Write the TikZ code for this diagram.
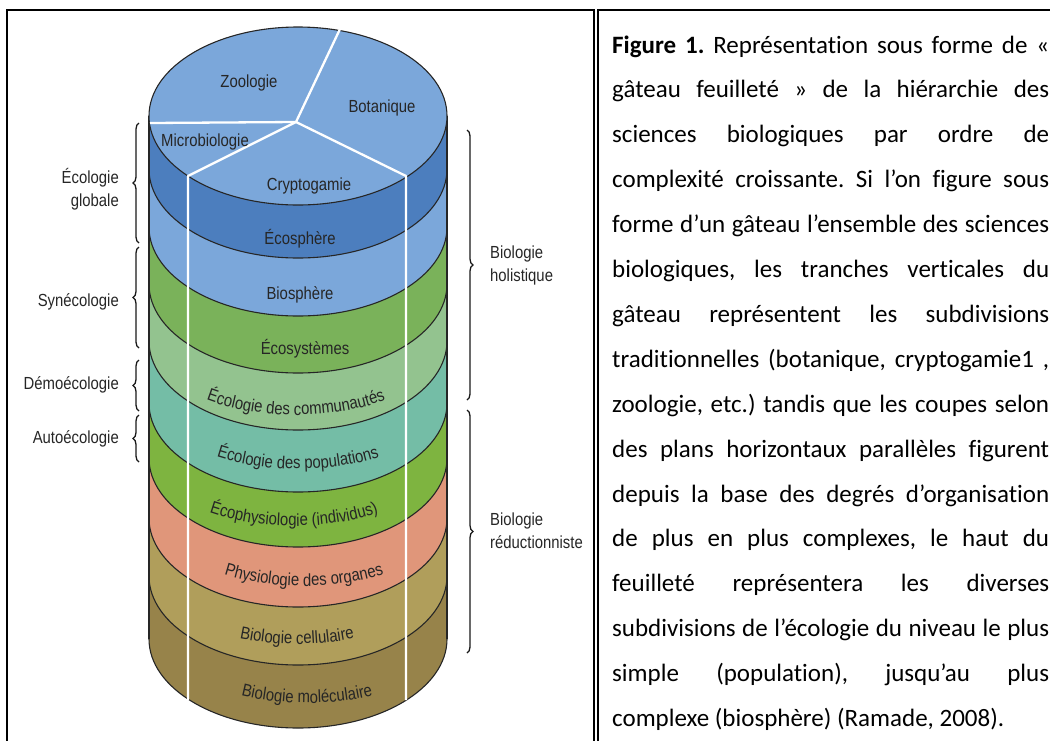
\documentclass[tikz,border=0pt]{standalone}
\usepackage{fontspec}
\usepackage{tikz}
\usetikzlibrary{decorations,decorations.pathreplacing,decorations.text}
\newfontfamily\narrowsans{Liberation Sans}[FakeStretch=0.85]
\newfontfamily\capfont{Carlito}[Ligatures=CommonOff]
\definecolor{cakeblue}{HTML}{7BA7DA}
\definecolor{cakedeep}{HTML}{4C7EBE}
\definecolor{cakegreen}{HTML}{7AB25A}
\definecolor{cakemint}{HTML}{93C38F}
\definecolor{caketeal}{HTML}{74BDA6}
\definecolor{cakeleaf}{HTML}{7EB440}
\definecolor{cakesalmon}{HTML}{E0967A}
\definecolor{cakekhaki}{HTML}{B09E5B}
\definecolor{cakebrown}{HTML}{97834A}
\definecolor{labelgray}{HTML}{262626}
\newcommand\curvefont{\narrowsans\fontsize{17.5}{20}\selectfont\color{labelgray}}
\newcommand\jline[1]{\makebox[437pt][s]{#1}}
\tikzstyle{rim}=[draw=black!85, line width=1.1]
\tikzstyle{slice}=[draw=white, line width=2.3, line join=round]
\tikzstyle{lbl}=[font=\narrowsans\fontsize{17.5}{22.5}\selectfont, text=labelgray, inner sep=0]
\tikzstyle{lbrace}=[decorate, decoration={brace, amplitude=6}, line width=1.3, draw=black!90]
\tikzstyle{capline}=[font=\capfont\fontsize{25}{30}\selectfont, inner sep=0, anchor=base west]
\frenchspacing

\begin{document}
\begin{tikzpicture}[x=1pt,y=-1pt]
\useasboundingbox (0,0) rectangle (1050,740);
\draw[line width=1.6] (7,10) rectangle (594,760);
\draw[line width=1.6] (598,10) rectangle (1070,760);
\foreach \ct/\cb/\col in {116/169/cakedeep,169/227/cakeblue,227/284/cakegreen,284/341/cakemint,341/403/caketeal,403/458/cakeleaf,458/518/cakesalmon,518/576/cakekhaki,576/639/cakebrown} {
	\fill[\col] (149,\ct) -- (149,\cb) arc[start angle=180,end angle=0,x radius=149,y radius=89] -- (447,\ct) arc[start angle=0,end angle=180,x radius=149,y radius=89] -- cycle;
}
\foreach \cb in {169,227,284,341,403,458,518,576,639} {
	\draw[rim] (149,\cb) arc[start angle=180,end angle=0,x radius=149,y radius=89];
}
\draw[rim] (149,116) -- (149,639);
\draw[rim] (447,116) -- (447,639);
\filldraw[fill=cakeblue, rim] (298,116) ellipse[x radius=149, y radius=89];
\coordinate (hub) at (296,122);
\coordinate (rimL) at (150,123);
\coordinate (rimT) at (340,29);
\coordinate (frontL) at (188,176);
\coordinate (frontR) at (406,176);
\coordinate (baseL) at (188,700);
\coordinate (baseR) at (406,700);
\draw[slice] (rimL) -- (hub) -- (rimT);
\draw[slice] (baseL) -- (frontL) -- (hub) -- (frontR) -- (baseR);
\node[lbl, anchor=base] (zoo) at (249,87) {Zoologie};
\node[lbl, anchor=base] (bota) at (382,112) {Botanique};
\node[lbl, anchor=base] (micro) at (205,146) {Microbiologie};
\node[lbl, anchor=base] (crypto) at (309,190) {Cryptogamie};
\node[lbl, anchor=base] (ecosph) at (300,244) {Écosphère};
\node[lbl, anchor=base] (biosph) at (300,299) {Biosphère};
\node[lbl, anchor=base] (ecosys) at (305,354) {Écosystèmes};
\path[decorate, decoration={text along path, text align=center, text={|\curvefont|Écologie des communautés}}] (147,340) arc[start angle=180,end angle=0,x radius=149,y radius=75];
\path[decorate, decoration={text along path, text align=center, text={|\curvefont|Écologie des populations}}] (149,394) arc[start angle=180,end angle=0,x radius=149,y radius=75];
\path[decorate, decoration={text along path, text align=center, text={|\curvefont|Écophysiologie (individus)}}] (145,451) arc[start angle=180,end angle=0,x radius=149,y radius=75];
\path[decorate, decoration={text along path, text align=center, text={|\curvefont|Physiologie des organes}}] (155,511) arc[start angle=180,end angle=0,x radius=149,y radius=75];
\path[decorate, decoration={text along path, text align=center, text={|\curvefont|Biologie cellulaire}}] (148,569) arc[start angle=180,end angle=0,x radius=149,y radius=75];
\path[decorate, decoration={text along path, text align=center, text={|\curvefont|Biologie moléculaire}}] (158,628) arc[start angle=180,end angle=0,x radius=149,y radius=75];
\draw[lbrace] (139,243) -- (139,123);
\draw[lbrace] (139,348) -- (139,247);
\draw[lbrace] (139,411) -- (139,360);
\draw[lbrace] (139,462) -- (139,415);
\draw[lbrace] (467,130) -- (467,400);
\draw[lbrace] (467,410) -- (467,653);
\node[lbl, align=right, anchor=base east] (ecoglob) at (119,206) {Écologie\\globale};
\node[lbl, anchor=base east] (synecol) at (119,306) {Synécologie};
\node[lbl, anchor=base east] (demoecol) at (119,389) {Démoécologie};
\node[lbl, anchor=base east] (autoecol) at (119,443) {Autoécologie};
\node[lbl, align=left, anchor=base west] (holist) at (490,281) {Biologie\\holistique};
\node[lbl, align=left, anchor=base west] (reduct) at (490,548) {Biologie\\réductionniste};
\foreach \ln [count=\i] in {{\textbf{Figure 1.} Représentation sous forme de «},{gâteau feuilleté » de la hiérarchie des},{sciences biologiques par ordre de},{complexité croissante. Si l’on figure sous},{forme d’un gâteau l’ensemble des sciences},{biologiques, les tranches verticales du},{gâteau représentent les subdivisions},{traditionnelles (botanique, cryptogamie1 ,},{zoologie, etc.) tandis que les coupes selon},{des plans horizontaux parallèles figurent},{depuis la base des degrés d’organisation},{de plus en plus complexes, le haut du},{feuilleté représentera les diverses},{subdivisions de l’écologie du niveau le plus},{simple (population), jusqu’au plus}} {
	\node[capline] (cap\i) at (612,{53+44.9*(\i-1)}) {\jline{\ln}};
}
\node[capline] (cap16) at (612,726.5) {complexe (biosphère) (Ramade, 2008).};
\end{tikzpicture}
\end{document}
